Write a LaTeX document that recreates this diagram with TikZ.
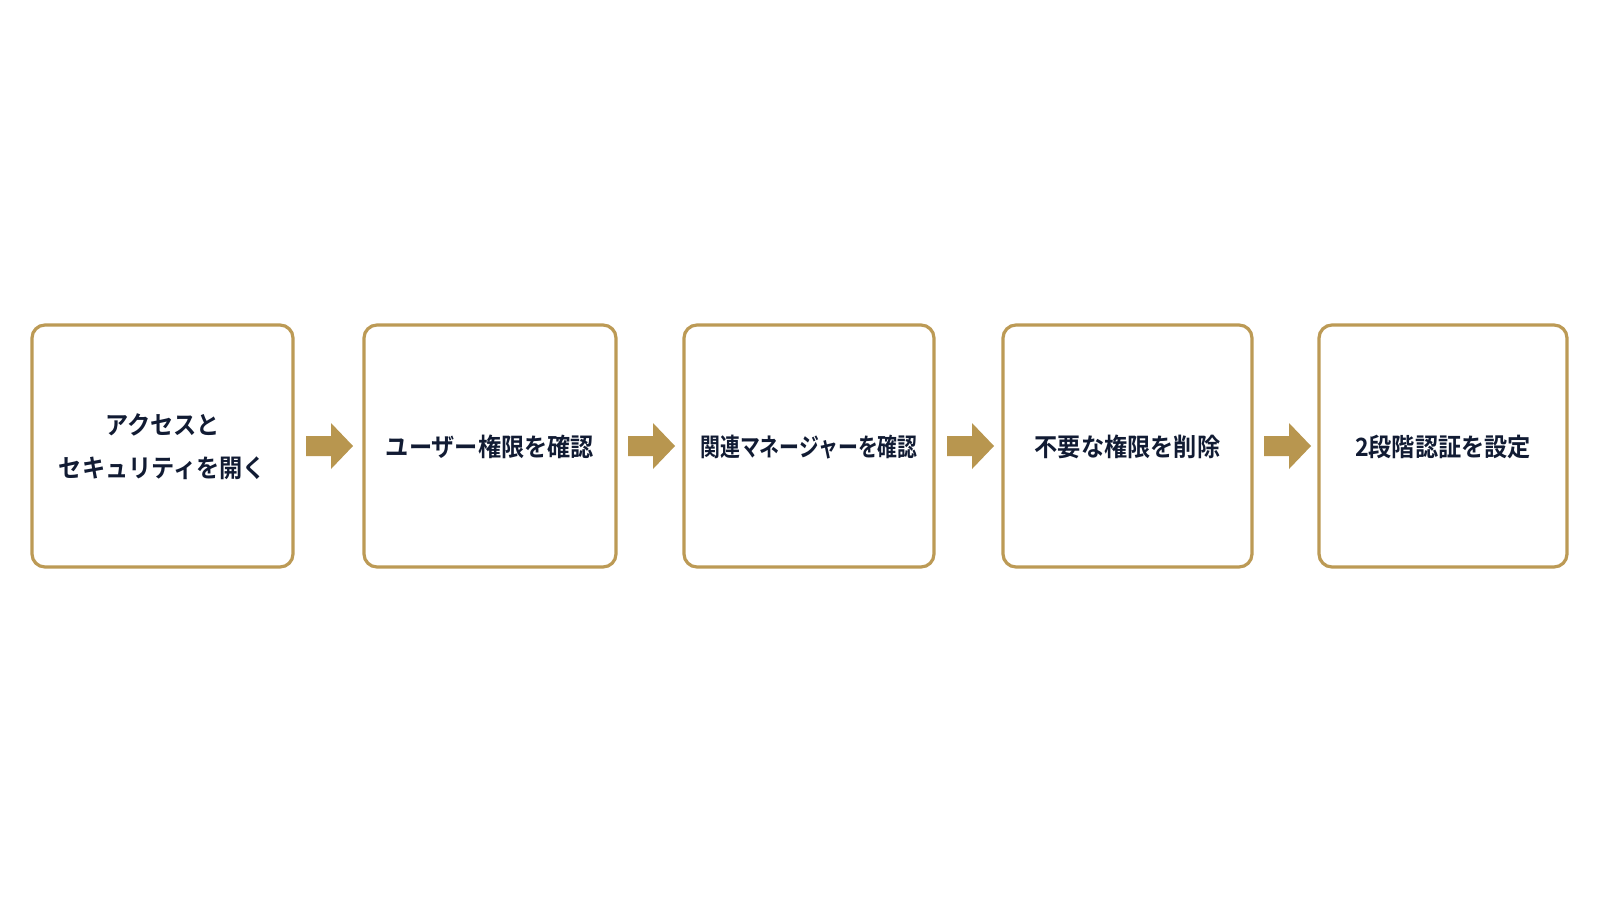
\documentclass[tikz,border=0pt]{standalone}
\usepackage{fontspec}
\setmainfont{Noto Sans CJK JP}[BoldFont={* Bold}]
\newfontfamily\jpb{Noto Sans CJK JP Bold}
\usetikzlibrary{positioning}
\definecolor{gold}{HTML}{BC9A55}
\definecolor{arrowgold}{HTML}{B8964F}
\definecolor{navy}{HTML}{111B33}
\newcommand{\cond}[2][0.92]{\scalebox{#1}[1]{#2}}
\tikzset{
  stepbox/.style={draw=gold, line width=1.6pt, rounded corners=6.5pt, fill=white, inner sep=0pt},
  steptext/.style={text=navy, font=\jpb\fontsize{12.6pt}{21.5pt}\selectfont, align=center, inner sep=0pt},
  fatarrow/.style={fill=arrowgold, draw=none},
}
\begin{document}
\begin{tikzpicture}[x=0.5pt,y=-0.5pt]
\fill[white] (0,0) rectangle (1600,900);
\useasboundingbox (0,0) rectangle (1600,900);
% boxes
\draw[stepbox] (32,325) rectangle (293,567);
\draw[stepbox] (364,325) rectangle (616,567);
\draw[stepbox] (684,325) rectangle (934,567);
\draw[stepbox] (1003,325) rectangle (1252,567);
\draw[stepbox] (1319,325) rectangle (1567,567);
\coordinate (b1) at (162.5,447);
\coordinate (b2) at (490,447);
\coordinate (b3) at (809,447);
\coordinate (b4) at (1127.5,447);
\coordinate (b5) at (1443,447);
\node[steptext] (t1) at (b1) {\cond{アクセスと}\\\cond{セキュリティを開く}};
\node[steptext] (t2) at (b2) {\cond{ユーザー権限を確認}};
\node[steptext] (t3) at (b3) {\cond[0.79]{関連マネージャーを確認}};
\node[steptext] (t4) at (b4) {\cond{不要な権限を削除}};
\node[steptext] (t5) at (b5) {\cond{2段階認証を設定}};
% arrows
\foreach \x [count=\i] in {306,628,947,1264}{
  \fill[fatarrow] (\x,436) -- (\x+25,436) -- (\x+25,423) -- (\x+47,446) -- (\x+25,469) -- (\x+25,456) -- (\x,456) -- cycle;
}
\end{tikzpicture}
\end{document}
